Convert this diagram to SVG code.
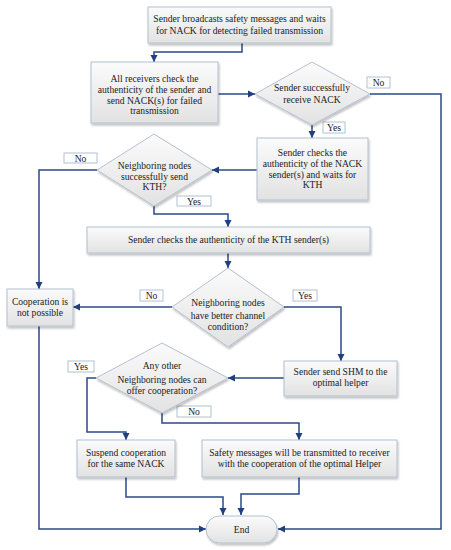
<svg xmlns="http://www.w3.org/2000/svg" width="451" height="550" viewBox="0 0 451 550">
<defs>
<linearGradient id="g" x1="0" y1="0" x2="0" y2="1">
<stop offset="0" stop-color="#fbfbfb"/>
<stop offset="1" stop-color="#e2e2e2"/>
</linearGradient>
<filter id="sh" x="-10%" y="-10%" width="130%" height="140%">
<feGaussianBlur in="SourceAlpha" stdDeviation="1"/>
<feOffset dx="1" dy="1.5" result="o"/>
<feComponentTransfer><feFuncA type="linear" slope="0.25"/></feComponentTransfer>
<feMerge><feMergeNode/><feMergeNode in="SourceGraphic"/></feMerge>
</filter>
<marker id="ar" markerWidth="8" markerHeight="8" refX="7" refY="4" orient="auto" markerUnits="userSpaceOnUse">
<path d="M0,0.5 L7,4 L0,7.5 Z" fill="#1f3f7f"/>
</marker>
</defs>
<style>
.n{fill:url(#g);stroke:#b4c0d2;stroke-width:1;filter:url(#sh)}
.lb{fill:#fff;stroke:#b4c0d2;stroke-width:1}
.t{font-family:"Liberation Serif","Times New Roman",serif;font-size:9.6px;fill:#222;text-anchor:middle}
.c{fill:none;stroke:#2b4a86;stroke-width:1.5;marker-end:url(#ar)}
</style>
<rect width="451" height="550" fill="#fff"/>

<g id="connectors">
<path class="c" d="M242,43 V52 H154 V62"/>
<path class="c" d="M218,94 H255"/>
<path class="c" d="M370,94 H441 V529 H278"/>
<path class="c" d="M312,125 V138"/>
<path class="c" d="M257,170 H212"/>
<path class="c" d="M97,170 H39 V289"/>
<path class="c" d="M154,206 V214 H228 V227"/>
<path class="c" d="M228,253 V268"/>
<path class="c" d="M172,307 H73"/>
<path class="c" d="M283,307 H341 V361"/>
<path class="c" d="M284,378 H228"/>
<path class="c" d="M96,378 H87 V432 H126 V440"/>
<path class="c" d="M162,413 V423 H299 V440"/>
<path class="c" d="M126,477 V497 H223 V515"/>
<path class="c" d="M299,477 V494 H241 V515"/>
<path class="c" d="M39,326 V529 H206"/>
</g>

<g id="labels">
<rect class="lb" x="367" y="77" width="23" height="11"/><text class="t" x="378.5" y="86">No</text>
<rect class="lb" x="323" y="122" width="22" height="11"/><text class="t" x="334" y="131">Yes</text>
<rect class="lb" x="64" y="153" width="33" height="10"/><text class="t" x="80.5" y="161.5">No</text>
<rect class="lb" x="177" y="196" width="34" height="10"/><text class="t" x="194" y="204.5">Yes</text>
<rect class="lb" x="140" y="290" width="23" height="11"/><text class="t" x="151.5" y="299">No</text>
<rect class="lb" x="293" y="290" width="24" height="11"/><text class="t" x="305" y="299">Yes</text>
<rect class="lb" x="68" y="361" width="26" height="11"/><text class="t" x="81" y="370">Yes</text>
<rect class="lb" x="177" y="406" width="34" height="11"/><text class="t" x="194" y="415">No</text>
</g>

<g id="n1">
<rect class="n" x="148" y="7" width="183" height="36"/>
<text class="t" x="239.5" y="22">Sender broadcasts safety messages and waits</text>
<text class="t" x="239.5" y="34">for NACK for detecting failed transmission</text>
</g>
<g id="n2">
<rect class="n" x="91" y="62" width="127" height="61"/>
<text class="t" x="154.5" y="82">All receivers check the</text>
<text class="t" x="154.5" y="93">authenticity of the sender and</text>
<text class="t" x="154.5" y="104">send NACK(s) for failed</text>
<text class="t" x="154.5" y="114">transmission</text>
</g>
<g id="d1">
<polygon class="n" points="312,62 370,94 312,125 255,94"/>
<text class="t" x="312" y="91">Sender successfully</text>
<text class="t" x="312" y="103">receive NACK</text>
</g>
<g id="n3">
<rect class="n" x="257" y="138" width="111" height="62"/>
<text class="t" x="312.5" y="156">Sender checks the</text>
<text class="t" x="312.5" y="167">authenticity of the NACK</text>
<text class="t" x="312.5" y="177.5">sender(s) and waits for</text>
<text class="t" x="312.5" y="188">KTH</text>
</g>
<g id="d2">
<polygon class="n" points="154,134 212,170 154,206 97,170"/>
<text class="t" x="154.5" y="168.5">Neighboring nodes</text>
<text class="t" x="154.5" y="179.5">successfully send</text>
<text class="t" x="154.5" y="190">KTH?</text>
</g>
<g id="n4">
<rect class="n" x="87" y="227" width="283" height="26"/>
<text class="t" x="228.5" y="243">Sender checks the authenticity of the KTH sender(s)</text>
</g>
<g id="d3">
<polygon class="n" points="228,268 284,307 228,347 172,307"/>
<text class="t" x="228" y="306">Neighboring nodes</text>
<text class="t" x="228" y="318.5">have better channel</text>
<text class="t" x="228" y="330">condition?</text>
</g>
<g id="n5">
<rect class="n" x="7" y="289" width="66" height="37"/>
<text class="t" x="40" y="305">Cooperation is</text>
<text class="t" x="40" y="316">not possible</text>
</g>
<g id="n6">
<rect class="n" x="284" y="361" width="113" height="35"/>
<text class="t" x="340.5" y="375">Sender send SHM to the</text>
<text class="t" x="340.5" y="386">optimal helper</text>
</g>
<g id="d4">
<polygon class="n" points="162,343 228,378 162,413 96,378"/>
<text class="t" x="162" y="369">Any other</text>
<text class="t" x="162" y="383">Neighboring nodes can</text>
<text class="t" x="162" y="394">offer cooperation?</text>
</g>
<g id="n7">
<rect class="n" x="77" y="440" width="98" height="37"/>
<text class="t" x="126" y="456">Suspend cooperation</text>
<text class="t" x="126" y="467">for the same NACK</text>
</g>
<g id="n8">
<rect class="n" x="202" y="440" width="195" height="37"/>
<text class="t" x="299.5" y="456">Safety messages will be transmitted to receiver</text>
<text class="t" x="299.5" y="467">with the cooperation of the optimal Helper</text>
</g>
<g id="end">
<rect class="n" x="206" y="516" width="71" height="27" rx="13.5"/>
<text class="t" x="241.5" y="533">End</text>
</g>
</svg>
